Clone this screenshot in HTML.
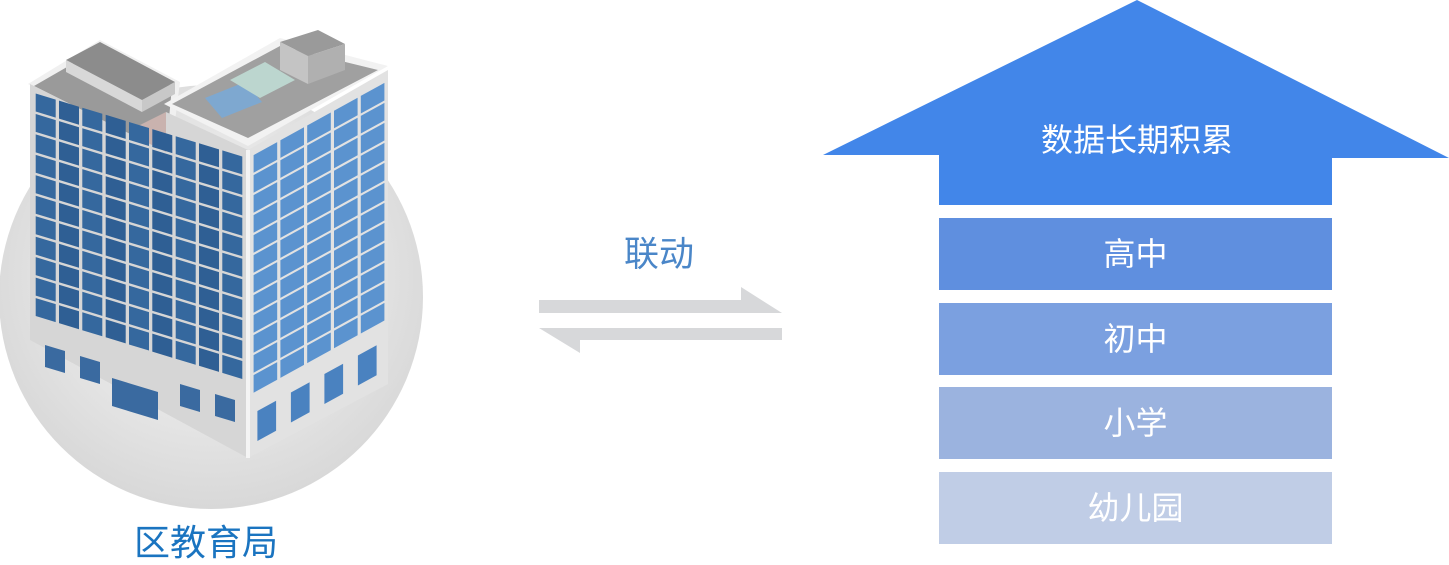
<!DOCTYPE html>
<html><head><meta charset="utf-8"><style>
html,body{margin:0;padding:0;background:#fff;}
body{width:1449px;height:562px;position:relative;overflow:hidden;font-family:"Liberation Sans","Noto Sans CJK SC",sans-serif;}
.t{position:absolute;white-space:nowrap;}
</style></head><body>
<svg width="1449" height="562" style="position:absolute;left:0;top:0">
<defs>
<radialGradient id="cg" cx="0.5" cy="0.45" r="0.55">
<stop offset="0.6" stop-color="#e6e6e6"/><stop offset="1" stop-color="#d8d8d8"/>
</radialGradient>
</defs>
<circle cx="211" cy="297" r="212" fill="url(#cg)"/>
<polygon points="28,84 100,40 180,82 170,160" fill="#f0f0f0"/>
<polygon points="34,86 100,48 172,86 166,152" fill="#9a9a9a"/>
<polygon points="130,130 166,112 166,160" fill="#c9b2ae"/>
<polygon points="66,60 100,42 175,82 142,100" fill="#8c8c8c"/>
<polygon points="66,60 142,100 142,112 66,72" fill="#d8d8d8"/>
<polygon points="142,100 175,82 175,94 142,112" fill="#c8c8c8"/>
<polygon points="164,104 280,38 388,66 248,146" fill="#f2f2f2"/>
<polygon points="172,104 280,46 378,70 248,138" fill="#a0a0a0"/>
<polygon points="205,98 245,82 262,102 222,118" fill="#7ea8d0"/>
<polygon points="230,80 265,62 295,80 260,98" fill="#bcd6cf"/>
<polygon points="280,42 318,30 345,44 308,56" fill="#9a9a9a"/>
<polygon points="280,42 308,56 308,84 280,70" fill="#c4c4c4"/>
<polygon points="308,56 345,44 345,70 308,84" fill="#b0b0b0"/>
<polygon points="30,84 166,152 166,112 248,150 248,458 30,340" fill="#d6d6d6"/>
<g id="lwin"></g>
<polygon points="248,150 388,70 388,384 248,458" fill="#e2e2e2"/>
<g id="rwin"></g>
<polygon points="246,150 250,150 250,458 246,458" fill="#f4f4f4"/>
<polygon points="539,300 741,300 741,287 782,313 539,313" fill="#d7d8da"/>
<polygon points="782,328 782,340 580,340 580,353 539,328" fill="#d7d8da"/>
<polygon points="1137,0 1449,158 1332,158 1332,205 939,205 939,155 823,155" fill="#4286e9"/>
<rect x="939" y="218" width="393" height="72" fill="#5f8fdf"/>
<rect x="939" y="303" width="393" height="72" fill="#7ba0e0"/>
<rect x="939" y="387" width="393" height="72" fill="#9bb3df"/>
<rect x="939" y="472" width="393" height="72" fill="#c0cde6"/>
</svg>
<div class="t" style="left:1000px;top:120px;width:274px;text-align:center;color:#fff;font-size:32px;line-height:40px">数据长期积累</div>
<div class="t" style="left:939px;top:234px;width:393px;text-align:center;color:#fff;font-size:32px;line-height:40px">高中</div>
<div class="t" style="left:939px;top:319px;width:393px;text-align:center;color:#fff;font-size:32px;line-height:40px">初中</div>
<div class="t" style="left:939px;top:403px;width:393px;text-align:center;color:#fff;font-size:32px;line-height:40px">小学</div>
<div class="t" style="left:939px;top:488px;width:393px;text-align:center;color:#fff;font-size:32px;line-height:40px">幼儿园</div>
<div class="t" style="left:590px;top:234px;width:138px;text-align:center;color:#4a86c8;font-size:35px;line-height:42px">联动</div>
<div class="t" style="left:104px;top:521px;width:204px;text-align:center;color:#1a74c0;font-size:36px;line-height:44px">区教育局</div>
<script>
var ns="http://www.w3.org/2000/svg";
function poly(g,pts,fill){var p=document.createElementNS(ns,"polygon");p.setAttribute("points",pts.map(function(a){return a[0].toFixed(1)+","+a[1].toFixed(1)}).join(" "));p.setAttribute("fill",fill);g.appendChild(p);}
var L=document.getElementById("lwin");
function P(u,v){return [34+210*u,92+64*u+250*v];}
for(var c=0;c<9;c++){for(var r=0;r<11;r++){
 var u0=c/9+0.008,u1=(c+1)/9-0.008,v0=r/11*0.9+0.004,v1=(r+1)/11*0.9-0.006;
 poly(L,[P(u0,v0),P(u1,v0),P(u1,v1),P(u0,v1)],(c%2?"#2f5f94":"#35689e"));
}}
var lb=[[45,345],[80,356],[180,384],[215,394]];
lb.forEach(function(w){poly(L,[[w[0],w[1]],[w[0]+20,w[1]+6],[w[0]+20,w[1]+28],[w[0],w[1]+22]],"#3a6aa0");});
poly(L,[[112,378],[158,392],[158,420],[112,406]],"#3a6aa0");
var R=document.getElementById("rwin");
function Q(u,v){return [252+134*u,156-74*u+300*v];}
for(var c=0;c<5;c++){for(var r=0;r<12;r++){
 var u0=c/5+0.012,u1=(c+1)/5-0.012,v0=r/12*0.8,v1=(r+1)/12*0.8-0.008;
 poly(R,[Q(u0,v0),Q(u1,v0),Q(u1,v1),Q(u0,v1)],"#5b93cf");
}}
for(var c=0;c<4;c++){var u0=c/4+0.04,u1=u0+0.14;
 poly(R,[Q(u0,0.86),Q(u1,0.86),Q(u1,0.96),Q(u0,0.96)],"#4a82c0");}
</script>
</body></html>
